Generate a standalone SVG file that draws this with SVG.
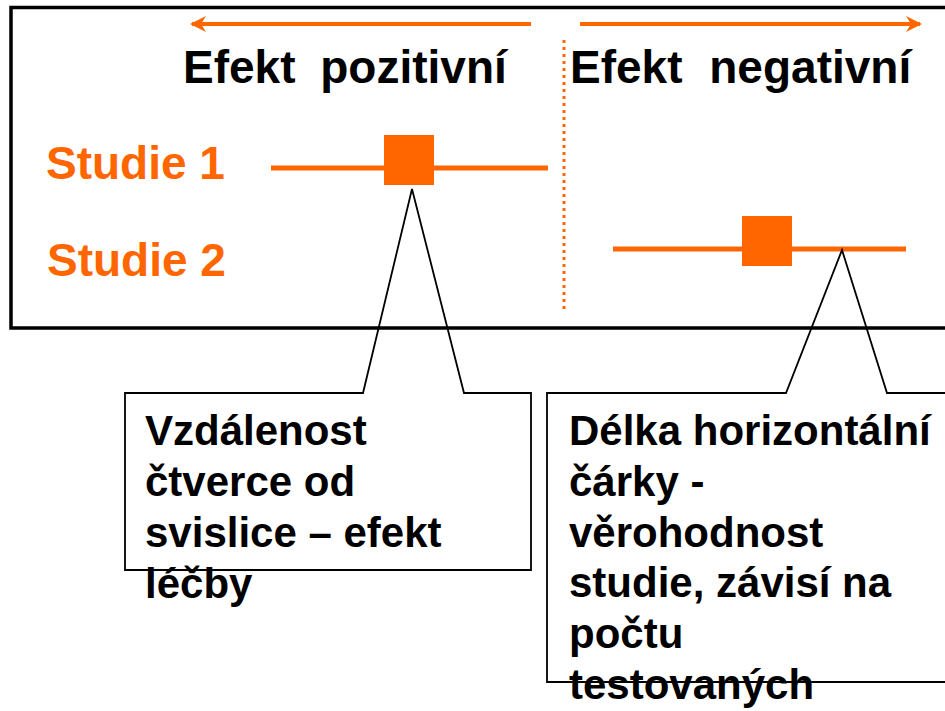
<svg xmlns="http://www.w3.org/2000/svg" width="945" height="711" viewBox="0 0 945 711">
<style>
.hdr{font-family:"Liberation Sans",Arial,sans-serif;font-weight:bold;font-size:46px;fill:#000}
.stud{font-family:"Liberation Sans",Arial,sans-serif;font-weight:bold;font-size:46px;fill:#FF6600}
.note{font-family:"Liberation Sans",Arial,sans-serif;font-weight:bold;font-size:42px;fill:#000}
.orange{stroke:#FF6600;fill:none}
.callout{fill:none;stroke:#000;stroke-width:1.8;stroke-linejoin:miter}
</style>
<defs>
<marker id="arr" viewBox="0 0 16 16" refX="14" refY="8" markerWidth="16" markerHeight="16" markerUnits="userSpaceOnUse" orient="auto">
<path d="M0,0 L16,8 L0,16 L5,8 Z" fill="#FF6600"/>
</marker>
</defs>
<rect width="945" height="711" fill="#fff"/>
<g id="frame">
<rect x="11" y="7.5" width="960" height="320.5" fill="none" stroke="#000" stroke-width="3.5"/>
</g>
<g id="axis">
<line class="orange" x1="531" y1="24" x2="192" y2="24" stroke-width="4" marker-end="url(#arr)"/>
<line class="orange" x1="580" y1="24" x2="920" y2="24" stroke-width="4" marker-end="url(#arr)"/>
<line class="orange" x1="564" y1="40" x2="564" y2="311" stroke-width="3" stroke-dasharray="3 4"/>
<text class="hdr" x="183" y="83" word-spacing="12">Efekt pozitivní</text>
<text class="hdr" x="570" y="83" word-spacing="14">Efekt negativní</text>
</g>
<g id="study1">
<text class="stud" x="46" y="179">Studie 1</text>
<line class="orange" x1="271" y1="168" x2="548" y2="168" stroke-width="5"/>
<rect x="384" y="135" width="50" height="50" fill="#FF6600"/>
</g>
<g id="study2">
<text class="stud" x="47" y="276">Studie 2</text>
<line class="orange" x1="613" y1="249" x2="906" y2="249" stroke-width="5"/>
<rect x="742" y="216" width="50" height="50" fill="#FF6600"/>
</g>
<g id="connectors">
<path class="callout" d="M125,570 L125,393 L363,393 L412,189 L464,393 L531,393 L531,570 Z"/>
<path class="callout" d="M960,682 L547,682 L547,393 L786,393 L842,250 L887,393 L960,393"/>
</g>
<g id="note1">
<text class="note" x="145" y="445">Vzdálenost</text>
<text class="note" x="145" y="496">čtverce od</text>
<text class="note" x="145" y="547">svislice – efekt</text>
<text class="note" x="145" y="598">léčby</text>
</g>
<g id="note2">
<text class="note" x="569" y="445">Délka horizontální</text>
<text class="note" x="569" y="496">čárky -</text>
<text class="note" x="569" y="547">věrohodnost</text>
<text class="note" x="569" y="597">studie, závisí na</text>
<text class="note" x="569" y="648">počtu</text>
<text class="note" x="569" y="699">testovaných</text>
</g>
</svg>
